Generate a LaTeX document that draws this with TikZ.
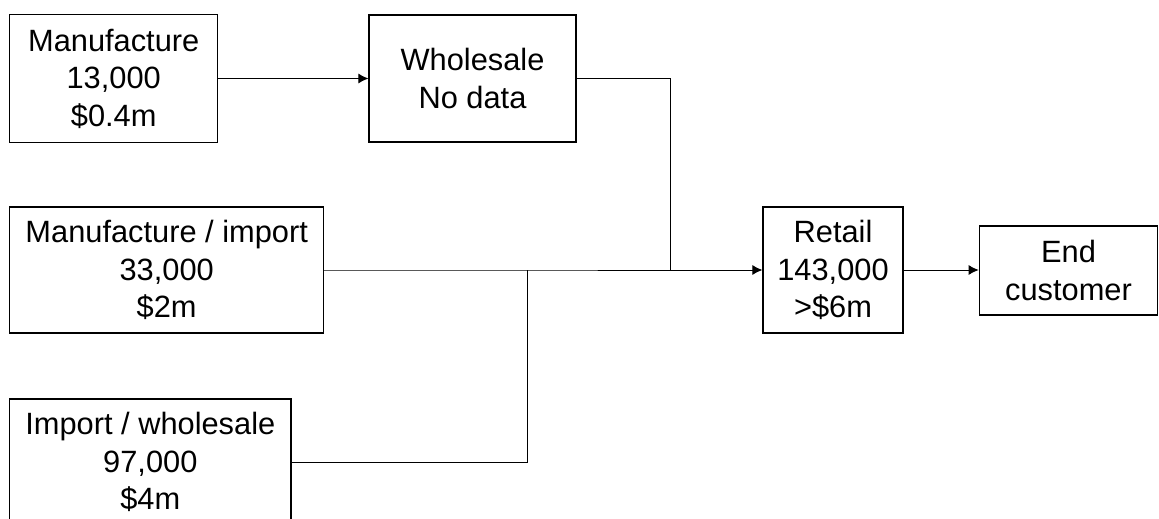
\documentclass[tikz,border=0pt]{standalone}
\usepackage{fontspec}
\setmainfont{Liberation Sans}
\usetikzlibrary{arrows.meta}
\tikzset{
  flowbox/.style={draw=black, line width=1.1pt, inner sep=0pt, align=center,
    font=\fontsize{30.8}{37.5}\selectfont},
  conn/.style={draw=black, line width=1pt},
  connarr/.style={conn, -{Latex[length=10pt,width=10pt]}}
}
\begin{document}
\begin{tikzpicture}[x=1pt,y=-1pt]
\useasboundingbox (0,0) rectangle (1159,519);
\clip (0,0) rectangle (1159,519);
\node[flowbox, minimum width=208pt, minimum height=127.6pt] (m) at (113.7,78.5) {Manufacture\\13,000\\\$0.4m};
\node[flowbox, minimum width=207pt, minimum height=127pt] (w) at (472.5,78.5) {Wholesale\\No data};
\node[flowbox, minimum width=314pt, minimum height=126pt] (mi) at (166.7,270) {Manufacture / import\\33,000\\\$2m};
\node[flowbox, minimum width=281.3pt, minimum height=126pt] (iw) at (150.3,462) {Import / wholesale\\97,000\\\$4m};
\node[flowbox, minimum width=140pt, minimum height=126pt] (r) at (833,270) {Retail\\143,000\\>\$6m};
\node[flowbox, minimum width=178.5pt, minimum height=89pt] (e) at (1068.5,270.5) {End\\customer};
\coordinate (j1) at (670,270);
\coordinate (j2) at (527,270);
\draw[connarr] (m.east) -- (w.west);
\draw[connarr] (w.east) -| (j1) -- (r.west);
\draw[conn] (mi.east) -- (j2) -- (j1);
\draw[conn] (iw.east) -| (j2);
\draw[connarr] (r.east) -- (r.east -| e.west);
\end{tikzpicture}
\end{document}
